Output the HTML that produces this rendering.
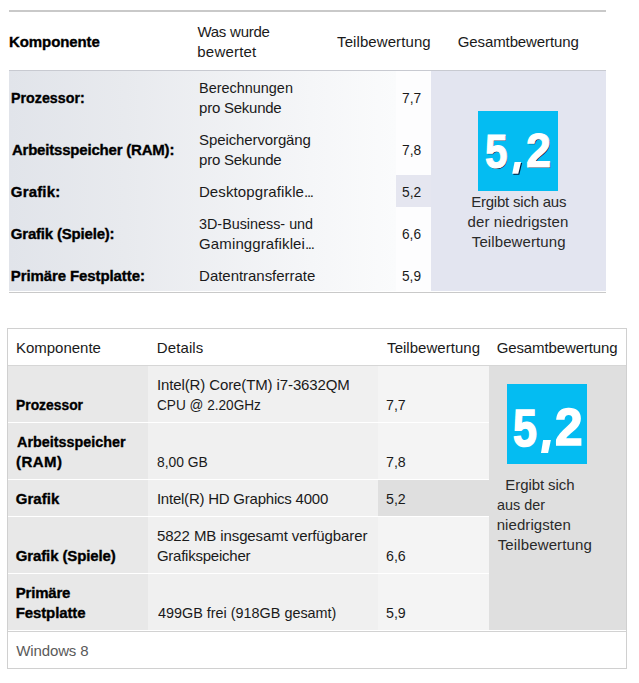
<!DOCTYPE html>
<html>
<head>
<meta charset="utf-8">
<style>
html,body{margin:0;padding:0;}
body{width:639px;height:683px;background:#fff;position:relative;overflow:hidden;font-family:"Liberation Sans",sans-serif;font-size:15px;line-height:20px;color:#1a1a1a;}
.r{position:absolute;}
.el{letter-spacing:-1.3px}
.t{position:absolute;white-space:nowrap;}
.b{font-weight:bold;font-size:15px;-webkit-text-stroke:0.35px #000;}
.big1{font-weight:bold;font-size:49px;line-height:80px;color:#fff;white-space:nowrap;-webkit-text-stroke:1.2px #fff;text-shadow:1px 1px 0 rgba(0,0,30,.85);transform-origin:0 0}
.big2{font-weight:bold;font-size:53px;line-height:80px;color:#fff;white-space:nowrap;-webkit-text-stroke:1.6px #fff;transform-origin:0 0}
</style>
</head>
<body>

<!-- TOP TABLE (Windows 7) -->
<div class="r" style="left:9px;top:10px;width:597px;height:2px;background:#c9c9c9"></div>
<div class="r" style="left:9px;top:70px;width:597px;height:1px;background:#c8cad1"></div>
<div class="r" style="left:9px;top:71px;width:387px;height:220px;background:linear-gradient(to right,#e1e4ea 0%,#e8eaee 30%,#f5f6f8 78%,#fafbfc 100%)"></div>
<div class="r" style="left:396px;top:71px;width:35px;height:220px;background:#fdfdfe"></div>
<div class="r" style="left:396px;top:175px;width:35px;height:32px;background:#e5e6f0"></div>
<div class="r" style="left:431px;top:71px;width:175px;height:220px;background:#e3e5f0"></div>
<div class="r" style="left:9px;top:292px;width:597px;height:1px;background:#c9c9c9"></div>
<div class="r" style="left:478px;top:111px;width:80px;height:80px;background:#04bcf2"></div>
<div class="r big1" style="left:485.07px;top:110.83px;transform:scale(.831,.994)">5</div>
<div class="r big1" style="left:525.68px;top:111.56px;transform:scale(.92,.971)">2</div>
<svg class="r" style="left:478px;top:111px" width="80" height="80" viewBox="478 111 80 80"><polygon points="515.6,163.1 522.1,163.1 519.3,174.7 513.2,174.7" fill="rgba(0,0,30,.85)"/><polygon points="514.6,162.1 521.1,162.1 518.3,173.7 512.2,173.7" fill="#fff"/></svg>

<!-- BOTTOM TABLE (Windows 8) -->
<div class="r" style="left:7px;top:328px;width:618px;height:339px;border:1px solid #d0d0d0;background:#fff"></div>
<div class="r" style="left:8px;top:365px;width:618px;height:1px;background:#d6d6d6"></div>
<div class="r" style="left:8px;top:366px;width:140px;height:264px;background:#e8e8e8"></div>
<div class="r" style="left:148px;top:366px;width:230px;height:264px;background:#f0f0f0"></div>
<div class="r" style="left:378px;top:366px;width:111px;height:264px;background:#f4f4f4"></div>
<div class="r" style="left:378px;top:480px;width:111px;height:36px;background:#dfdfdf"></div>
<div class="r" style="left:489px;top:366px;width:137px;height:264px;background:#dfdfdf"></div>
<div class="r" style="left:8px;top:422px;width:481px;height:1px;background:#fff"></div>
<div class="r" style="left:8px;top:479px;width:481px;height:1px;background:#fff"></div>
<div class="r" style="left:8px;top:516px;width:481px;height:1px;background:#fff"></div>
<div class="r" style="left:8px;top:573px;width:481px;height:1px;background:#fff"></div>
<div class="r" style="left:8px;top:631px;width:618px;height:1px;background:#d2d2d2"></div>
<div class="r" style="left:507px;top:384px;width:80px;height:80px;background:#04bcf2"></div>
<div class="r big2" style="left:512.79px;top:389.06px;transform:scale(.811,.977)">5</div>
<div class="r big2" style="left:554.96px;top:388.46px;transform:scale(.937,.977)">2</div>
<svg class="r" style="left:507px;top:384px" width="80" height="80" viewBox="507 384 80 80"><polygon points="543.1,440.1 550.9,440.1 548.1,453 541,453" fill="#fff"/></svg>

<div class="t b" style="left:9.0px;top:32.0px;letter-spacing:-0.089px;color:#000">Komponente</div>
<div class="t" style="left:197.4px;top:22.0px;letter-spacing:-0.238px">Was wurde</div>
<div class="t" style="left:197.3px;top:42.0px;letter-spacing:0.2px">bewertet</div>
<div class="t" style="left:337.1px;top:32.0px;letter-spacing:0.083px">Teilbewertung</div>
<div class="t" style="left:457.8px;top:32.0px;letter-spacing:-0.114px">Gesamtbewertung</div>
<div class="t b" style="left:11.05px;top:88.0px;transform:scaleX(0.9507);transform-origin:0 0;color:#000">Prozessor:</div>
<div class="t" style="left:199.14px;top:78.0px;transform:scaleX(0.9625);transform-origin:0 0">Berechnungen</div>
<div class="t" style="left:199.1px;top:98.0px;letter-spacing:-0.25px">pro Sekunde</div>
<div class="t" style="left:401.58px;top:88.0px;transform:scaleX(0.9211);transform-origin:0 0">7,7</div>
<div class="t b" style="left:11.9px;top:140.0px;letter-spacing:-0.2px;color:#000">Arbeitsspeicher (RAM):</div>
<div class="t" style="left:199.1px;top:130.0px;letter-spacing:-0.114px">Speichervorgäng</div>
<div class="t" style="left:199.1px;top:150.0px;letter-spacing:-0.25px">pro Sekunde</div>
<div class="t" style="left:401.58px;top:140.0px;transform:scaleX(0.9211);transform-origin:0 0">7,8</div>
<div class="t b" style="left:10.8px;top:182.0px;letter-spacing:0.167px;color:#000">Grafik:</div>
<div class="t" style="left:198.9px;top:182.0px;letter-spacing:0.12px">Desktopgrafikle<span class="el">...</span></div>
<div class="t" style="left:401.58px;top:182.0px;transform:scaleX(0.9211);transform-origin:0 0">5,2</div>
<div class="t b" style="left:10.8px;top:224.0px;letter-spacing:-0.193px;color:#000">Grafik (Spiele):</div>
<div class="t" style="left:199.14px;top:214.0px;transform:scaleX(0.9568);transform-origin:0 0">3D-Business- und</div>
<div class="t" style="left:199.1px;top:234.0px;letter-spacing:0.113px">Gaminggrafiklei<span class="el">...</span></div>
<div class="t" style="left:401.79px;top:224.0px;transform:scaleX(0.9105);transform-origin:0 0">6,6</div>
<div class="t b" style="left:10.8px;top:266.0px;letter-spacing:-0.1px;color:#000">Primäre Festplatte:</div>
<div class="t" style="left:199.1px;top:266.0px;letter-spacing:-0.037px">Datentransferrate</div>
<div class="t" style="left:401.79px;top:266.0px;transform:scaleX(0.9105);transform-origin:0 0">5,9</div>
<div class="t" style="left:471.2px;top:192.0px;letter-spacing:-0.221px;color:#2a2a2a">Ergibt sich aus</div>
<div class="t" style="left:467.6px;top:212.0px;letter-spacing:0.1px;color:#2a2a2a">der niedrigsten</div>
<div class="t" style="left:471.8px;top:232.0px;letter-spacing:0.1px;color:#2a2a2a">Teilbewertung</div>
<div class="t" style="left:16.0px;top:338.0px;letter-spacing:-0.022px">Komponente</div>
<div class="t" style="left:156.8px;top:338.0px;letter-spacing:0.1px">Details</div>
<div class="t" style="left:387.1px;top:338.0px;letter-spacing:0.033px">Teilbewertung</div>
<div class="t" style="left:496.7px;top:338.0px;letter-spacing:-0.114px">Gesamtbewertung</div>
<div class="t b" style="left:15.78px;top:395.0px;transform:scaleX(0.9236);transform-origin:0 0;color:#000">Prozessor</div>
<div class="t" style="left:156.9px;top:375.0px;letter-spacing:-0.112px">Intel(R) Core(TM) i7-3632QM</div>
<div class="t" style="left:156.99px;top:395.0px;transform:scaleX(0.908);transform-origin:0 0">CPU @ 2.20GHz</div>
<div class="t" style="left:385.65px;top:395.0px;transform:scaleX(0.9474);transform-origin:0 0">7,7</div>
<div class="t b" style="left:16.7px;top:432.0px;transform:scaleX(0.9584);transform-origin:0 0;color:#000">Arbeitsspeicher</div>
<div class="t b" style="left:16.1px;top:452.0px;letter-spacing:0.45px;color:#000">(RAM)</div>
<div class="t" style="left:156.98px;top:452.0px;transform:scaleX(0.9226);transform-origin:0 0">8,00 GB</div>
<div class="t" style="left:385.65px;top:452.0px;transform:scaleX(0.9474);transform-origin:0 0">7,8</div>
<div class="t b" style="left:15.8px;top:489.0px;letter-spacing:0.02px;color:#000">Grafik</div>
<div class="t" style="left:156.9px;top:489.0px;letter-spacing:-0.225px">Intel(R) HD Graphics 4000</div>
<div class="t" style="left:385.65px;top:489.0px;transform:scaleX(0.9474);transform-origin:0 0">5,2</div>
<div class="t b" style="left:15.8px;top:546.0px;letter-spacing:-0.129px;color:#000">Grafik (Spiele)</div>
<div class="t" style="left:156.9px;top:526.0px;letter-spacing:-0.104px">5822 MB insgesamt verfügbarer</div>
<div class="t" style="left:156.9px;top:546.0px;letter-spacing:-0.238px">Grafikspeicher</div>
<div class="t" style="left:385.65px;top:546.0px;transform:scaleX(0.9474);transform-origin:0 0">6,6</div>
<div class="t b" style="left:15.7px;top:583.0px;letter-spacing:-0.183px;color:#000">Primäre</div>
<div class="t b" style="left:15.7px;top:603.0px;letter-spacing:-0.111px;color:#000">Festplatte</div>
<div class="t" style="left:157.9px;top:603.0px;transform:scaleX(0.9595);transform-origin:0 0">499GB frei (918GB gesamt)</div>
<div class="t" style="left:385.65px;top:603.0px;transform:scaleX(0.9474);transform-origin:0 0">5,9</div>
<div class="t" style="left:505.3px;top:475.0px;letter-spacing:-0.08px;color:#2a2a2a">Ergibt sich</div>
<div class="t" style="left:496.74px;top:495.0px;transform:scaleX(0.9592);transform-origin:0 0;color:#2a2a2a">aus der</div>
<div class="t" style="left:496.7px;top:515.0px;letter-spacing:0.08px;color:#2a2a2a">niedrigsten</div>
<div class="t" style="left:497.7px;top:535.0px;letter-spacing:0.133px;color:#2a2a2a">Teilbewertung</div>
<div class="t" style="left:16.3px;top:641.0px;letter-spacing:-0.137px;color:#5a5a5a">Windows 8</div>
</body>
</html>
